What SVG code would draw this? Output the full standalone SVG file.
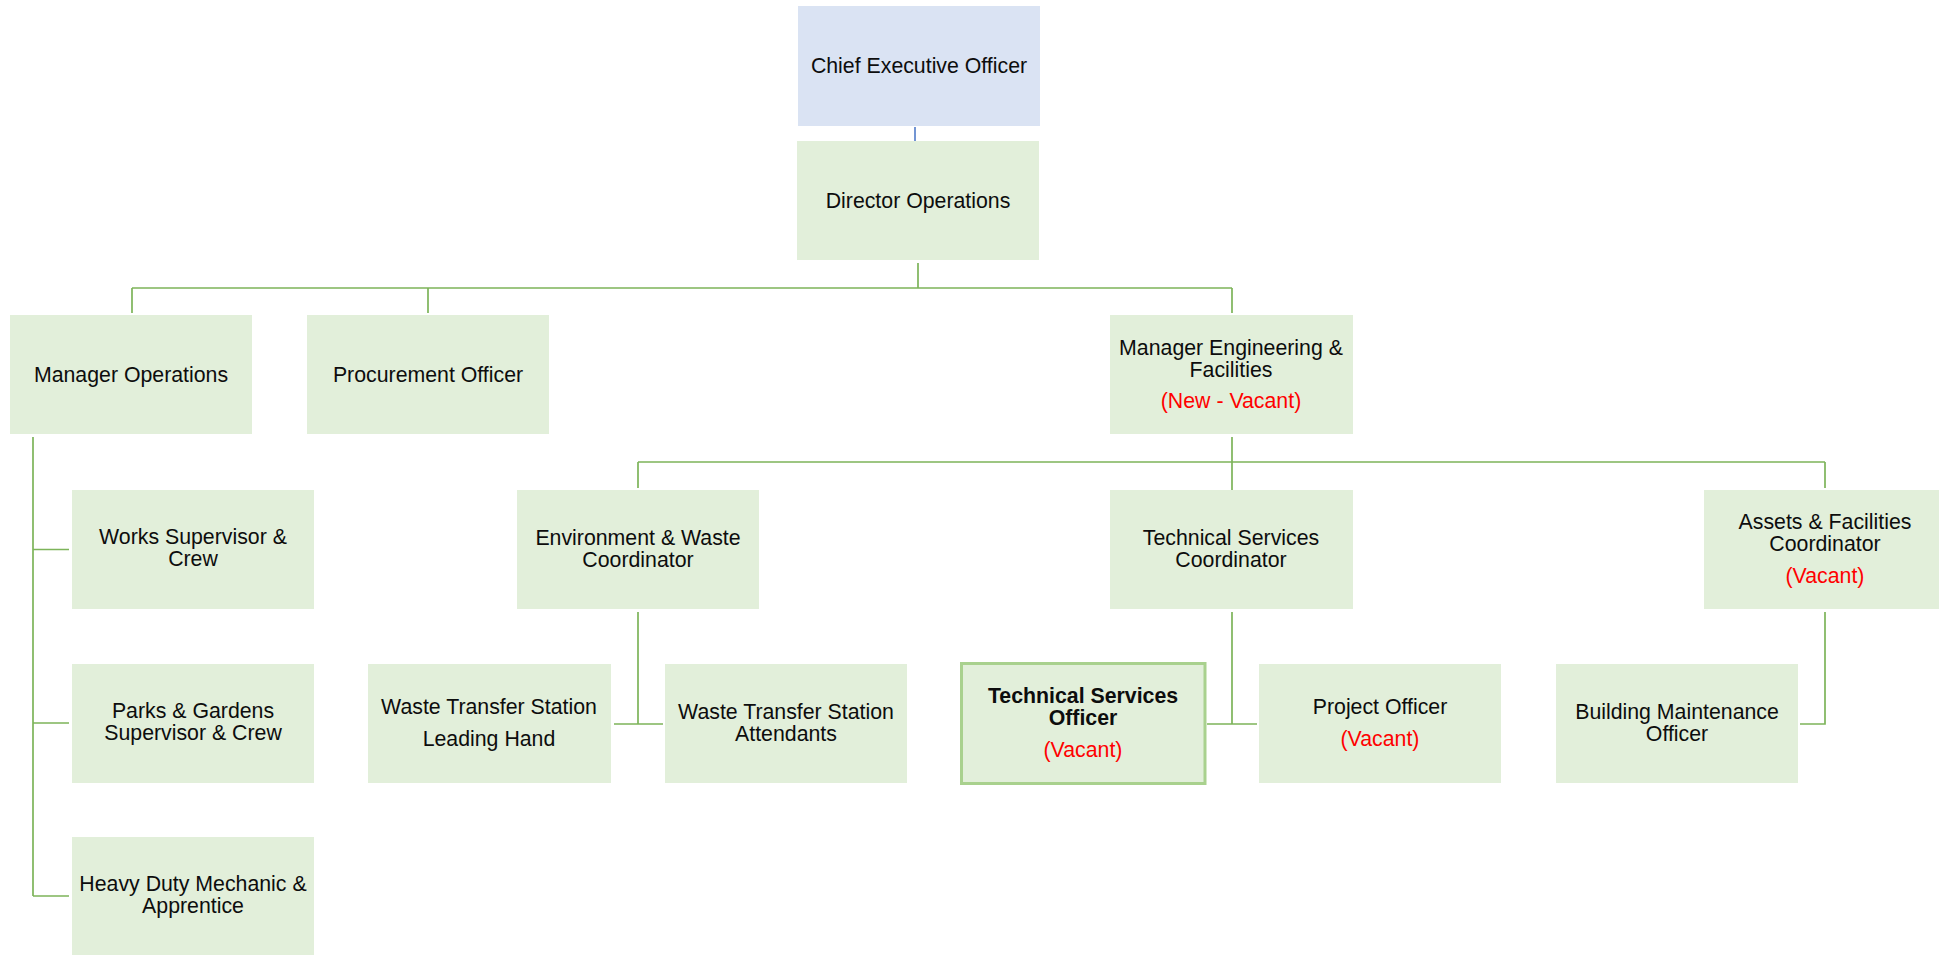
<svg xmlns="http://www.w3.org/2000/svg" width="1939" height="955" viewBox="0 0 1939 955">
<style>
.b{fill:#e2efda}
.c{fill:#dae3f3}
.hl{fill:#e2efda;stroke:#a9d18e;stroke-width:3}
text{font-family:"Liberation Sans",Arial,sans-serif;font-size:21.3px;fill:#0d0d0d;text-anchor:middle}
.r{fill:#ff0000}
.bd{font-weight:bold}
.ln{stroke:#7db45a;stroke-width:1.7;fill:none}
.lb{stroke:#4472c4;stroke-width:1.5;fill:none}
</style>
<rect width="1939" height="955" fill="#ffffff"/>
<g id="connectors">
<path class="lb" d="M915 127V141"/>
<path class="ln" d="M918 263V288M132 288H1232M132 288V313M428 288V313M1232 288V313"/>
<path class="ln" d="M1232 437V490M638 462H1825M638 462V488M1825 462V488"/>
<path class="ln" d="M33 437V896M33 549.5H69M33 723H69M33 896H69"/>
<path class="ln" d="M638 612V724M614 724H663"/>
<path class="ln" d="M1232 612V724M1207 724H1257"/>
<path class="ln" d="M1825 612V724H1800"/>
</g>
<g id="ceo"><rect class="c" x="798" y="6" width="242" height="120"/><text x="919" y="73">Chief Executive Officer</text></g>
<g id="director"><rect class="b" x="797" y="141" width="242" height="119"/><text x="918" y="208">Director Operations</text></g>
<g id="mgr-ops"><rect class="b" x="10" y="315" width="242" height="119"/><text x="131" y="382">Manager Operations</text></g>
<g id="procurement"><rect class="b" x="307" y="315" width="242" height="119"/><text x="428" y="382">Procurement Officer</text></g>
<g id="mgr-eng"><rect class="b" x="1110" y="315" width="243" height="119"/><text x="1231" y="355">Manager Engineering &amp;</text><text x="1231" y="377">Facilities</text><text class="r" x="1231" y="408">(New - Vacant)</text></g>
<g id="works"><rect class="b" x="72" y="490" width="242" height="119"/><text x="193" y="544">Works Supervisor &amp;</text><text x="193" y="566">Crew</text></g>
<g id="parks"><rect class="b" x="72" y="664" width="242" height="119"/><text x="193" y="718">Parks &amp; Gardens</text><text x="193" y="740">Supervisor &amp; Crew</text></g>
<g id="heavy"><rect class="b" x="72" y="837" width="242" height="119"/><text x="193" y="891">Heavy Duty Mechanic &amp;</text><text x="193" y="913">Apprentice</text></g>
<g id="env"><rect class="b" x="517" y="490" width="242" height="119"/><text x="638" y="545">Environment &amp; Waste</text><text x="638" y="567">Coordinator</text></g>
<g id="tech-coord"><rect class="b" x="1110" y="490" width="243" height="119"/><text x="1231" y="545">Technical Services</text><text x="1231" y="567">Coordinator</text></g>
<g id="assets"><rect class="b" x="1704" y="490" width="242" height="119"/><text x="1825" y="529">Assets &amp; Facilities</text><text x="1825" y="551">Coordinator</text><text class="r" x="1825" y="583">(Vacant)</text></g>
<g id="wts-lead"><rect class="b" x="368" y="664" width="243" height="119"/><text x="489" y="714">Waste Transfer Station</text><text x="489" y="746">Leading Hand</text></g>
<g id="wts-att"><rect class="b" x="665" y="664" width="242" height="119"/><text x="786" y="719">Waste Transfer Station</text><text x="786" y="741">Attendants</text></g>
<g id="tso"><rect class="hl" x="961.5" y="663.5" width="243.5" height="120"/><text class="bd" x="1083" y="703">Technical Services</text><text class="bd" x="1083" y="725">Officer</text><text class="r" x="1083" y="757">(Vacant)</text></g>
<g id="project"><rect class="b" x="1259" y="664" width="242" height="119"/><text x="1380" y="714">Project Officer</text><text class="r" x="1380" y="746">(Vacant)</text></g>
<g id="building"><rect class="b" x="1556" y="664" width="242" height="119"/><text x="1677" y="719">Building Maintenance</text><text x="1677" y="741">Officer</text></g>
</svg>
